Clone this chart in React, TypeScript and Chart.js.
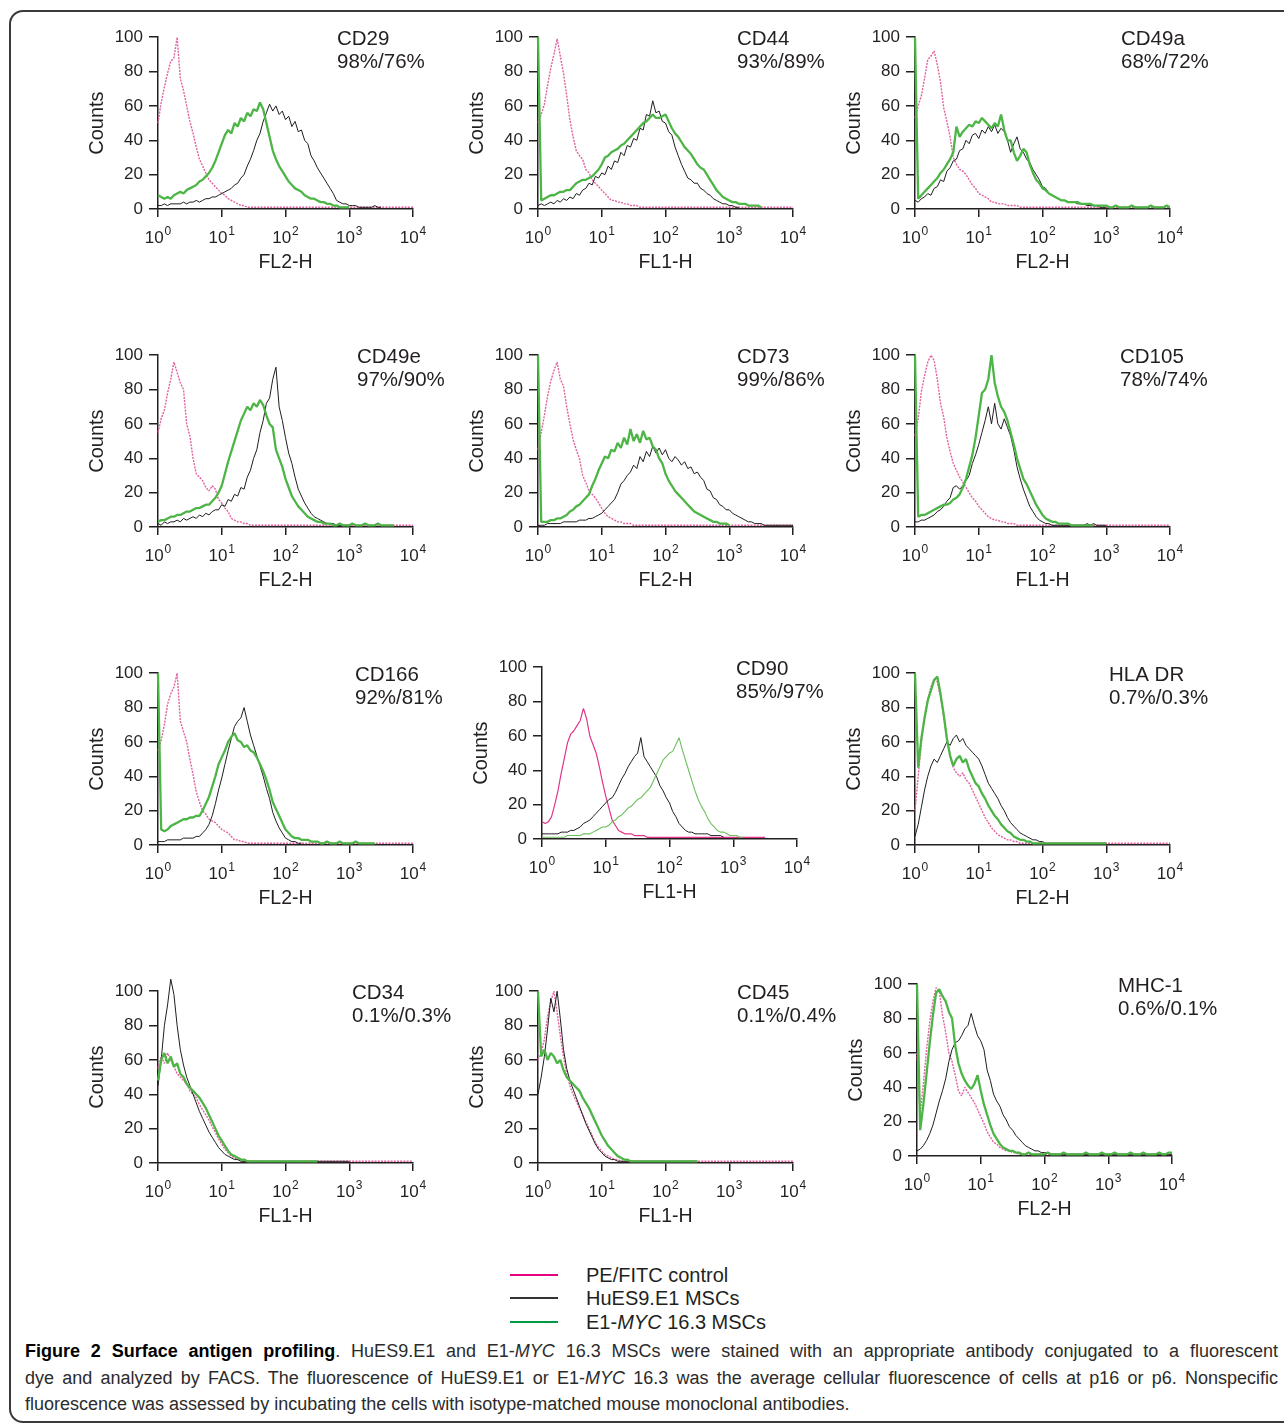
import React, { useEffect, useRef } from 'react';
import { Chart, registerables } from 'chart.js';

Chart.register(...registerables);

// ---------- shared axis values ----------
// Histogram channels: 20 bins per decade, 10^0 .. 10^4
const CHANNELS: number[] = Array.from({ length: 81 }, (_, i) => Math.pow(10, i / 20));
const DECADES = [0, 1, 2, 3, 4];
const Y_MAX = 100;
const Y_STEP = 20;
const Y_TITLE = 'Counts';

// ---------- panel labels ----------
const MARKERS = ['CD29', 'CD44', 'CD49a', 'CD49e', 'CD73', 'CD105', 'CD166', 'CD90', 'HLA DR', 'CD34', 'CD45', 'MHC-1'];
const PERCENTS = ['98%/76%', '93%/89%', '68%/72%', '97%/90%', '99%/86%', '78%/74%', '92%/81%', '85%/97%', '0.7%/0.3%', '0.1%/0.3%', '0.1%/0.4%', '0.6%/0.1%'];
const X_TITLES = ['FL2-H', 'FL1-H', 'FL2-H', 'FL2-H', 'FL2-H', 'FL1-H', 'FL2-H', 'FL1-H', 'FL2-H', 'FL1-H', 'FL1-H', 'FL2-H'];

// ---------- series values (counts per channel) ----------
// PE/FITC control
const CD29_CTRL = [50,62,71,79,86,88,100,76,69,60, 51,44,36,29,25,21,17,15,13,11, 9,8,6,5,4,3,2,2,1,1, 1,1,1,1,1,1,1,1,1,1, 1,1,1,1,1,1,1,1,1,1, 1,1,1,1,1,1,1,1,1,1, 1,1,1,1,1,1,1,1,1,1, 1,1,1,1,1,1,1,1,1,1, 1];
const CD44_CTRL = [50,55,61,72,82,90,99,89,79,66, 52,42,34,31,29,23,21,17,15,13, 11,9,7,5,5,4,4,3,3,2, 2,2,1,1,1,1,1,1,1,1, 1,1,1,1,1,1,1,1,1,1, 1,1,1,1,1,1,1,1,1,1, 1,1,1,1,1,1,1,1,1,1, 1,1,1,1,1,1,1,1,1,1, 1];
const CD49A_CTRL = [53,60,66,76,87,89,92,84,74,59, 51,42,30,26,23,22,20,17,14,12, 9,8,7,6,4,4,3,3,3,2, 2,2,2,1,1,1,1,1,1,1, 1,1,1,1,1,1,1,1,1,1, 1,1,1,1,1,1,1,1,1,1, 1,1,1,1,1,1,1,1,1,1, 1,1,1,1,1,1,1,1,1,1, 1];
const CD49E_CTRL = [55,63,68,78,86,96,90,84,80,60, 53,40,31,29,27,23,21,24,22,16, 14,11,9,5,4,3,3,2,2,1, 1,1,1,1,1,1,1,1,1,1, 1,1,1,1,1,1,1,1,1,1, 1,1,1,1,1,1,1,1,1,1, 1,1,1,1,1,1,1,1,1,1, 1,1,1,1,1,1,1,1,1,1, 1];
const CD73_CTRL = [45,55,65,76,85,91,96,86,82,70, 60,51,45,40,30,26,21,19,17,14, 11,8,6,5,4,3,3,2,2,2, 1,1,1,1,1,1,1,1,1,1, 1,1,1,1,1,1,1,1,1,1, 1,1,1,1,1,1,1,1,1,1, 1,1,1,1,1,1,1,1,1,1, 1,1,1,1,1,1,1,1,1,1, 1];
const CD105_CTRL = [53,63,79,88,96,100,97,86,72,64, 52,44,37,33,29,26,23,20,17,15, 12,10,8,6,5,4,4,3,3,2, 2,2,1,1,1,1,1,1,1,1, 1,1,1,1,1,1,1,1,1,1, 1,1,1,1,1,1,1,1,1,1, 1,1,1,1,1,1,1,1,1,1, 1,1,1,1,1,1,1,1,1,1, 1];
const CD166_CTRL = [55,61,70,82,88,92,100,72,66,60, 50,41,31,25,20,18,15,14,13,11, 9,8,7,5,3,3,2,2,1,1, 1,1,1,1,1,1,1,1,1,1, 1,1,1,1,1,1,1,1,1,1, 1,1,1,1,1,1,1,1,1,1, 1,1,1,1,1,1,1,1,1,1, 1,1,1,1,1,1,1,1,1,1, 1];
const CD90_CTRL = [10,9,10,13,20,28,38,47,56,61, 63,66,69,76,70,60,55,50,42,33, 25,18,11,8,5,4,3,3,3,2, 2,2,2,1,1,1,1,1,1,1, 1,1,1,1,1,1,1,1,1,1, 1,1,1,1,1,1,1,1,1,1, 1,1,1,1,1,1,1,1,1,1, 1];
const HLADR_CTRL = [20,40,60,75,85,92,97,95,86,75, 62,52,45,42,40,42,38,36,32,28, 24,20,16,13,10,8,6,5,4,3, 3,2,2,1,1,1,1,1,1,1, 1,1,1,1,1,1,1,1,1,1, 1,1,1,1,1,1,1,1,1,1, 1,1,1,1,1,1,1,1,1,1, 1,1,1,1,1,1,1,1,1,1, 1];
const CD34_CTRL = [55,62,58,64,60,56,52,50,48,46, 42,40,38,34,31,28,25,21,18,14, 11,8,6,4,3,2,2,1,1,1, 1,1,1,1,1,1,1,1,1,1, 1,1,1,1,1,1,1,1,1,1, 1,1,1,1,1,1,1,1,1,1, 1,1,1,1,1,1,1,1,1,1, 1,1,1,1,1,1,1,1,1,1, 1];
const CD45_CTRL = [60,64,72,85,94,100,88,74,62,52, 45,40,36,32,28,24,20,16,12,9, 7,5,4,3,2,2,1,1,1,1, 1,1,1,1,1,1,1,1,1,1, 1,1,1,1,1,1,1,1,1,1, 1,1,1,1,1,1,1,1,1,1, 1,1,1,1,1,1,1,1,1,1, 1,1,1,1,1,1,1,1,1,1, 1];
const MHC1_CTRL = [60,25,42,62,78,90,98,96,82,72, 60,55,47,38,35,40,37,34,31,27, 23,19,14,11,8,7,5,4,3,3, 2,2,1,1,1,1,1,1,1,1, 1,1,1,1,1,1,1,1,1,1, 1,1,1,1,1,1,1,1,1,1, 1,1,1,1,1,1,1,1,1,1, 1,1,1,1,1,1,1,1,1,1, 1];

// HuES9.E1 MSCs
const CD29_HUES9 = [2,2,3,2,3,3,3,3,4,3, 4,4,5,4,5,6,6,7,7,8, 9,10,11,12,14,15,18,20,25,29, 34,40,44,51,56,61,57,60,55,57, 52,54,48,51,45,46,40,38,31,28, 24,21,18,15,12,9,5,4,3,3, 2,2,2,1,1,1,1,1,2,1, 1];
const CD44_HUES9 = [2,3,2,3,4,3,5,4,6,5, 7,6,9,8,11,12,15,14,19,18, 21,20,25,23,28,27,33,31,37,36, 41,40,47,46,55,54,63,56,57,51, 50,45,43,36,31,26,22,18,17,15, 15,12,11,9,8,6,5,4,3,3, 2,2,1,1];
const CD49A_HUES9 = [5,4,6,7,9,8,12,13,17,16, 22,24,28,29,34,35,40,38,43,44, 41,46,44,48,45,49,44,47,45,40, 33,38,42,35,33,29,27,23,20,17, 13,12,9,8,7,6,5,5,4,4, 4,3,3,3,2,2,2,2,1,1, 1];
const CD49E_HUES9 = [2,1,3,2,3,3,4,3,5,4, 5,6,5,7,6,8,7,9,10,10, 13,12,16,15,19,18,23,22,29,33, 40,45,55,62,72,75,86,93,70,62, 52,43,37,29,22,18,14,11,8,6, 5,4,3,2,2,2,1,1,1,1, 1];
const CD73_HUES9 = [1,1,1,2,2,2,2,2,3,3, 3,3,3,4,4,4,5,5,6,7, 8,10,12,14,16,20,25,27,30,32, 36,34,41,38,44,41,47,43,46,42, 45,40,38,41,39,36,38,34,35,31, 32,29,27,22,21,17,16,13,12,10, 10,8,7,6,5,4,3,3,2,2, 2,1,1,1,1,1,1,1,1,1, 1];
const CD105_HUES9 = [3,3,4,4,5,6,7,9,10,12, 15,17,23,24,22,24,27,30,37,42, 48,55,62,70,60,72,60,57,63,58, 53,45,35,28,22,17,12,9,6,4, 3,2,2,1,1,1,1,1,1,1, 1,1,1,1,2,1,2,1,1,1, 1];
const CD166_HUES9 = [2,2,2,3,3,3,3,3,4,4, 4,4,5,5,7,9,12,17,24,32, 39,47,55,62,69,72,74,80,72,64, 58,52,46,40,33,27,19,14,10,7, 4,3,2,2,1,1];
const CD90_HUES9 = [3,3,3,3,3,3,4,4,4,5, 5,6,7,9,10,11,13,15,17,19, 21,23,24,27,31,35,38,42,45,48, 50,59,48,45,42,39,36,31,28,24, 21,16,13,9,7,5,4,4,3,3, 3,3,3,2,2,2,2,1];
const HLADR_HUES9 = [5,12,22,32,40,46,50,48,52,56, 60,58,62,64,60,62,58,56,54,52, 50,46,41,36,33,30,27,23,20,16, 13,11,9,7,6,5,4,3,3,2, 2,1,1,1,1,1,1,1,1,1, 1,1,1,1,1,1,1,1,1,1, 1];
const CD34_HUES9 = [45,60,80,92,107,98,80,66,57,50, 45,40,35,30,26,22,18,15,12,9, 7,5,4,3,2,2,1,1,1,1, 1,1,1,1,1,1,1,1,1,1, 1,1,1,1,1,1,1,1,1,1, 1,1,1,1,1,1,1,1,1,1, 1];
const CD45_HUES9 = [40,50,62,78,96,88,100,84,66,55, 48,43,38,33,28,23,19,15,11,8, 6,4,3,2,2,1,1,1,1,1, 1,1,1,1,1,1,1,1,1,1, 1,1,1,1,1,1,1,1,1,1, 1];
const MHC1_HUES9 = [3,4,6,9,13,18,25,32,38,45, 55,62,66,67,70,74,76,83,76,70, 67,62,50,44,36,32,29,24,21,17, 15,12,10,8,6,5,4,3,3,2, 2,2,1,1,1,1,1,1,1,1, 1,1,1,1,1,1,1,1,1,1, 1,1,1,1,1,1,1,1,1,1, 1,1,1,1,1,1,1,1,1,1, 1];

// E1-MYC 16.3 MSCs
const CD29_MYC = [8,7,6,7,6,8,9,10,9,11, 12,13,14,16,17,19,21,24,28,33, 38,43,46,44,50,48,53,51,56,54, 58,57,62,58,50,42,34,29,25,22, 19,16,14,12,11,10,8,7,6,6, 5,4,4,3,3,2,2,1,1,1, 1];
const CD44_MYC = [100,5,6,7,8,8,9,10,10,11, 11,13,15,16,17,17,18,19,21,23, 26,30,31,33,34,35,37,38,40,42, 44,46,48,50,51,53,55,53,53,54, 55,51,47,44,42,39,36,34,32,29, 26,24,23,20,17,14,11,9,7,6, 5,4,4,3,3,3,2,2,2,2, 1];
const CD49A_MYC = [100,6,8,10,12,14,16,18,21,23, 26,29,33,48,42,45,47,49,48,51, 50,53,51,49,47,50,48,55,46,40, 40,33,28,31,35,33,26,21,17,15, 12,11,9,8,7,6,5,5,4,4, 4,4,3,3,3,3,2,2,2,2, 2,1,1,2,1,1,1,1,2,1, 1,1,1,1,2,1,1,1,1,2, 1];
const CD49E_MYC = [3,4,4,5,6,6,7,7,8,9, 9,10,11,11,12,13,13,15,17,20, 24,31,38,44,50,56,62,66,70,68, 72,70,74,71,65,60,58,45,40,35, 28,23,18,15,12,10,8,6,5,4, 3,3,2,2,2,1,1,2,1,1, 1,2,1,1,1,2,1,1,1,2, 1,1,1,1,1];
const CD73_MYC = [100,3,3,3,4,4,5,5,6,7, 9,10,12,13,15,17,19,24,28,33, 37,41,40,45,44,49,46,52,48,57, 50,54,49,56,51,52,47,45,40,37, 31,27,24,21,19,17,15,13,11,9, 8,7,6,5,4,3,3,2,2,2, 1];
const CD105_MYC = [100,6,7,7,8,9,10,11,12,13, 13,14,16,17,19,23,28,35,42,52, 65,78,80,86,100,84,76,70,67,62, 55,48,40,34,28,25,21,17,13,10, 7,5,4,3,3,2,2,2,2,1, 1,1,1,1,1,1,1];
const CD166_MYC = [100,9,8,9,11,12,13,14,15,15, 16,16,17,17,20,24,28,34,40,47, 51,55,60,63,65,61,60,57,58,55, 54,51,47,43,38,32,25,21,17,13, 9,7,5,4,4,3,3,3,2,2, 2,1,1,2,1,1,1,2,1,1, 1,1,2,1,1,1,1,1,1];
const CD90_MYC = [1,1,1,1,1,1,1,1,2,2, 2,2,2,3,3,3,4,5,6,7, 7,8,10,11,13,14,16,18,19,21, 23,24,26,28,30,34,38,42,46,48, 50,51,55,59,52,46,40,34,28,23, 19,16,12,9,7,5,4,4,3,2, 2,2,1,1];
const HLADR_MYC = [100,45,62,74,84,90,96,98,88,76, 62,52,46,50,52,48,50,44,40,36, 34,30,27,23,20,17,15,12,10,8, 7,5,4,3,3,2,2,1,1,1, 1,1,1,1,1,1,1,1,1,1, 1,1,1,1,1,1,1,1,1,1, 1];
const CD34_MYC = [48,60,64,58,62,56,58,52,50,46, 44,42,40,38,35,32,28,24,20,16, 13,10,7,5,4,3,2,2,1,1, 1,1,1,1,1,1,1,1,1,1, 1,1,1,1,1,1,1,1,1,1, 1];
const CD45_MYC = [100,62,66,60,64,62,58,60,54,50, 48,46,44,42,38,35,32,28,24,20, 16,13,10,8,6,4,3,2,2,1, 1,1,1,1,1,1,1,1,1,1, 1,1,1,1,1,1,1,1,1,1, 1];
const MHC1_MYC = [100,15,30,48,66,82,95,97,93,90, 84,80,64,54,48,44,41,39,42,47, 38,30,24,18,13,10,7,5,4,3, 3,2,2,1,1,2,1,1,1,1, 1,2,1,1,1,1,2,1,1,1, 1,1,1,2,1,1,1,1,2,1, 1,1,2,1,1,1,1,2,1,1, 1,2,1,1,1,1,2,1,1,2, 2];

const CONTROL = [CD29_CTRL, CD44_CTRL, CD49A_CTRL, CD49E_CTRL, CD73_CTRL, CD105_CTRL, CD166_CTRL, CD90_CTRL, HLADR_CTRL, CD34_CTRL, CD45_CTRL, MHC1_CTRL];
const HUES9 = [CD29_HUES9, CD44_HUES9, CD49A_HUES9, CD49E_HUES9, CD73_HUES9, CD105_HUES9, CD166_HUES9, CD90_HUES9, HLADR_HUES9, CD34_HUES9, CD45_HUES9, MHC1_HUES9];
const MYC = [CD29_MYC, CD44_MYC, CD49A_MYC, CD49E_MYC, CD73_MYC, CD105_MYC, CD166_MYC, CD90_MYC, HLADR_MYC, CD34_MYC, CD45_MYC, MHC1_MYC];

const SERIES_NAMES = ['PE/FITC control', 'HuES9.E1 MSCs', 'E1-MYC 16.3 MSCs'];

// ---------- layout & style (not data) ----------
const PLOT_LEFT = [158, 538, 915, 158, 538, 915, 158, 542, 915, 158, 538, 917];
const PLOT_TOP = [35, 35, 35, 353, 353, 353, 671, 665, 671, 989, 989, 982];
const TITLE_LEFT = [337, 737, 1121, 357, 737, 1120, 355, 736, 1109, 352, 737, 1118];
const PLOT_W = 255;
const PLOT_H = 174;
const PAD_L = 80;
const PAD_T = 14;
const PAD_R = 80;
const PAD_B = 70;
const CW = PAD_L + PLOT_W + PAD_R;
const CH = PAD_T + PLOT_H + PAD_B;

const FONT = '"Liberation Sans", Arial, Helvetica, sans-serif';
const TEXT = '#231f20';
const AXIS = '#231f20';
const THIN_PANEL = 'CD90';

const panelText = {
  id: 'panelText',
  afterDraw(chart: any, _args: any, o: any) {
    const { ctx, chartArea: ca } = chart;
    const xs = chart.scales.x;
    ctx.save();
    ctx.fillStyle = TEXT;
    ctx.textAlign = 'left';
    ctx.textBaseline = 'alphabetic';
    for (const e of DECADES) {
      const px = xs.getPixelForValue(Math.pow(10, e));
      ctx.font = `17px ${FONT}`;
      const wb = ctx.measureText('10').width;
      ctx.font = `12px ${FONT}`;
      const we = ctx.measureText(String(e)).width;
      const x0 = px - (wb + we + 1) / 2;
      ctx.font = `17px ${FONT}`;
      ctx.fillText('10', x0, ca.bottom + 33.5);
      ctx.font = `12px ${FONT}`;
      ctx.fillText(String(e), x0 + wb + 1, ca.bottom + 26);
    }
    ctx.font = `19.5px ${FONT}`;
    ctx.textAlign = 'center';
    ctx.fillText(o.xTitle, (ca.left + ca.right) / 2, ca.bottom + 59);
    ctx.font = `20.5px ${FONT}`;
    ctx.textAlign = 'left';
    ctx.fillText(o.marker, ca.left + o.titleDx, ca.top + 7.5);
    ctx.fillText(o.percent, ca.left + o.titleDx, ca.top + 30.5);
    ctx.translate(ca.left - 55, (ca.top + ca.bottom) / 2);
    ctx.rotate(-Math.PI / 2);
    ctx.textAlign = 'center';
    ctx.font = `20px ${FONT}`;
    ctx.fillText(Y_TITLE, 0, 0);
    ctx.restore();
  },
};

function points(values: number[]) {
  return values.slice(0, CHANNELS.length).map((y, i) => ({ x: CHANNELS[i], y }));
}

function buildConfig(i: number): any {
  const thin = MARKERS[i] === THIN_PANEL;
  const clip = { left: 3, top: false, right: 0, bottom: 3 };
  return {
    type: 'line',
    data: {
      datasets: [
        {
          label: SERIES_NAMES[0],
          data: points(CONTROL[i]),
          borderColor: thin ? '#e0358b' : '#e2619f',
          borderWidth: thin ? 1.2 : 1.4,
          borderDash: thin ? [] : [2, 1.2],
          order: 3,
          clip,
        },
        {
          label: SERIES_NAMES[1],
          data: points(HUES9[i]),
          borderColor: '#1e1e1e',
          borderWidth: 1,
          order: 2,
          clip,
        },
        {
          label: SERIES_NAMES[2],
          data: points(MYC[i]),
          borderColor: thin ? '#6cc05c' : '#4db546',
          borderWidth: thin ? 1.1 : 2.3,
          order: 1,
          clip,
        },
      ],
    },
    options: {
      responsive: false,
      animation: false,
      devicePixelRatio: 1,
      events: [],
      layout: { padding: { left: 0, top: PAD_T, right: PAD_R, bottom: 0 } },
      elements: {
        point: { radius: 0 },
        line: { tension: 0, borderJoinStyle: 'bevel', fill: false },
      },
      plugins: {
        legend: { display: false },
        tooltip: { enabled: false },
        panelText: {
          xTitle: X_TITLES[i],
          marker: MARKERS[i],
          percent: PERCENTS[i],
          titleDx: TITLE_LEFT[i] - PLOT_LEFT[i],
        },
      },
      scales: {
        x: {
          type: 'logarithmic',
          min: 1,
          max: 10000,
          afterBuildTicks: (s: any) => {
            s.ticks = DECADES.map((e) => ({ value: Math.pow(10, e) }));
          },
          ticks: { display: false },
          grid: { display: true, drawOnChartArea: false, drawTicks: true, tickLength: 8, color: AXIS, lineWidth: 1.5 },
          border: { display: true, color: AXIS, width: 1.5 },
          afterFit: (s: any) => {
            s.height = PAD_B;
          },
        },
        y: {
          type: 'linear',
          min: 0,
          max: Y_MAX,
          ticks: { stepSize: Y_STEP, font: { family: FONT, size: 17 }, color: TEXT, padding: 6 },
          grid: { display: true, drawOnChartArea: false, drawTicks: true, tickLength: 9, color: AXIS, lineWidth: 1.5 },
          border: { display: true, color: AXIS, width: 1.5 },
          afterFit: (s: any) => {
            s.width = PAD_L;
          },
        },
      },
    },
    plugins: [panelText],
  };
}

function Panel({ index }: { index: number }) {
  const ref = useRef<HTMLCanvasElement>(null);
  useEffect(() => {
    if (!ref.current) return;
    const chart = new Chart(ref.current, buildConfig(index));
    return () => chart.destroy();
  }, [index]);
  return (
    <canvas
      ref={ref}
      width={CW}
      height={CH}
      style={{
        position: 'absolute',
        left: PLOT_LEFT[index] - PAD_L,
        top: PLOT_TOP[index] - PAD_T,
        width: CW,
        height: CH,
        display: 'block',
      }}
    />
  );
}

function italicMyc(text: string) {
  const parts = text.split('MYC');
  const out: React.ReactNode[] = [];
  parts.forEach((p, k) => {
    out.push(<span key={'t' + k}>{p}</span>);
    if (k < parts.length - 1) out.push(<i key={'i' + k}>MYC</i>);
  });
  return out;
}

const LEGEND_COLORS = ['#e6007e', '#333333', '#009a44'];
const LEGEND_TOP = [1263, 1286, 1310];

const CAPTION_BOLD = 'Figure 2 Surface antigen profiling';
const CAPTION_LINES = [
  '. HuES9.E1 and E1-MYC 16.3 MSCs were stained with an appropriate antibody conjugated to a fluorescent',
  'dye and analyzed by FACS. The fluorescence of HuES9.E1 or E1-MYC 16.3 was the average cellular fluorescence of cells at p16 or p6. Nonspecific',
  'fluorescence was assessed by incubating the cells with isotype-matched mouse monoclonal antibodies.',
];
const CAPTION_TOP = [1341, 1368, 1394];

export default function App() {
  return (
    <div
      style={{
        position: 'absolute',
        left: 0,
        top: 0,
        width: 1284,
        height: 1424,
        overflow: 'hidden',
        background: '#ffffff',
        fontFamily: FONT,
        color: TEXT,
      }}
    >
      <div
        style={{
          position: 'absolute',
          left: 9,
          top: 10,
          width: 1320,
          height: 1413,
          border: '2px solid #3a3a3a',
          borderRadius: 14,
          boxSizing: 'border-box',
        }}
      />
      {MARKERS.map((_, i) => (
        <Panel key={i} index={i} />
      ))}
      {SERIES_NAMES.map((name, k) => (
        <React.Fragment key={name}>
          <div
            style={{
              position: 'absolute',
              left: 510,
              top: LEGEND_TOP[k] + 11,
              width: 48,
              height: 2,
              background: LEGEND_COLORS[k],
            }}
          />
          <div
            style={{
              position: 'absolute',
              left: 586,
              top: LEGEND_TOP[k],
              fontSize: 20,
              lineHeight: '24px',
              whiteSpace: 'nowrap',
            }}
          >
            {italicMyc(name)}
          </div>
        </React.Fragment>
      ))}
      {CAPTION_LINES.map((line, k) => (
        <div
          key={k}
          style={{
            position: 'absolute',
            left: 25,
            top: CAPTION_TOP[k],
            width: 1253,
            fontSize: 18,
            lineHeight: '20px',
            textAlign: k < 2 ? 'justify' : 'left',
            textAlignLast: k < 2 ? 'justify' : 'left',
            color: '#2b2b2b',
          } as React.CSSProperties}
        >
          {k === 0 && <b style={{ color: '#000' }}>{CAPTION_BOLD}</b>}
          {italicMyc(line)}
        </div>
      ))}
    </div>
  );
}
